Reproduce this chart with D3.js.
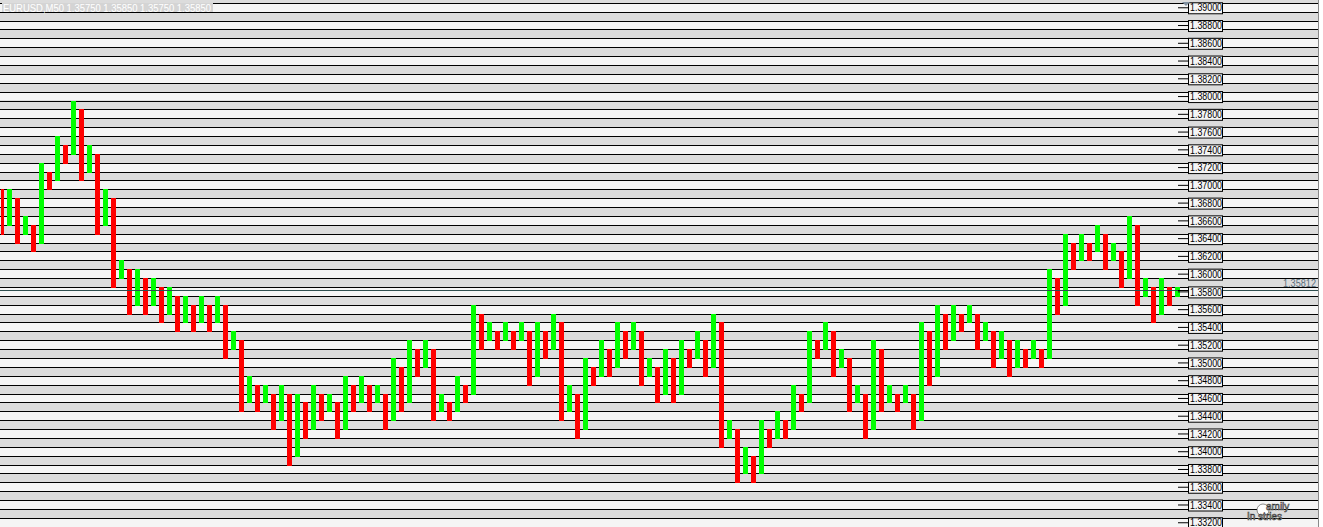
<!DOCTYPE html>
<html>
<head>
<meta charset="utf-8">
<script src="https://cdn.jsdelivr.net/npm/d3@7"></script>
<style>
  html, body { margin: 0; padding: 0; background: #ffffff; }
  svg { display: block; }
</style>
</head>
<body>
<div id="chart"></div>
<script>
// EURUSD,M50 бары (open/close), цвет по направлению
const opens = [
  1.3695, 1.3655, 1.3685, 1.3645, 1.3655, 1.3635, 1.3715, 1.3705, 1.3745, 1.3735,
  1.3785, 1.3715, 1.3735, 1.3655, 1.3685, 1.3595, 1.3605, 1.3565, 1.3595, 1.3565,
  1.3585, 1.3555, 1.3575, 1.3545, 1.3565, 1.3545, 1.3565, 1.3545, 1.3565, 1.3515,
  1.3525, 1.3455, 1.3475, 1.3455, 1.3465, 1.3435, 1.3465, 1.3395, 1.3455, 1.3425,
  1.3465, 1.3445, 1.3455, 1.3425, 1.3475, 1.3455, 1.3475, 1.3455, 1.3465, 1.3435,
  1.3495, 1.3455, 1.3515, 1.3495, 1.3515, 1.3445, 1.3455, 1.3445, 1.3475, 1.3465,
  1.3555, 1.3525, 1.3535, 1.3525, 1.3535, 1.3525, 1.3535, 1.3485, 1.3535, 1.3515,
  1.3545, 1.3445, 1.3465, 1.3425, 1.3495, 1.3485, 1.3515, 1.3495, 1.3535, 1.3515,
  1.3535, 1.3485, 1.3495, 1.3465, 1.3505, 1.3465, 1.3515, 1.3505, 1.3525, 1.3495,
  1.3545, 1.3415, 1.3425, 1.3375, 1.3395, 1.3375, 1.3425, 1.3415, 1.3435, 1.3425,
  1.3465, 1.3455, 1.3525, 1.3515, 1.3535, 1.3495, 1.3505, 1.3455, 1.3465, 1.3425,
  1.3515, 1.3455, 1.3465, 1.3455, 1.3465, 1.3435, 1.3535, 1.3485, 1.3555, 1.3525,
  1.3555, 1.3545, 1.3555, 1.3525, 1.3535, 1.3505, 1.3525, 1.3495, 1.3515, 1.3505,
  1.3515, 1.3505, 1.3595, 1.3565, 1.3635, 1.3615, 1.3635, 1.3625, 1.3645, 1.3615,
  1.3625, 1.3595, 1.3655, 1.3575, 1.3585, 1.3555, 1.3585, 1.3575
];
const closes = [
  1.3645, 1.3695, 1.3635, 1.3665, 1.3625, 1.3725, 1.3695, 1.3755, 1.3725, 1.3795,
  1.3705, 1.3745, 1.3645, 1.3695, 1.3585, 1.3615, 1.3555, 1.3605, 1.3555, 1.3595,
  1.3545, 1.3585, 1.3535, 1.3575, 1.3535, 1.3575, 1.3535, 1.3575, 1.3505, 1.3535,
  1.3445, 1.3485, 1.3445, 1.3475, 1.3425, 1.3475, 1.3385, 1.3465, 1.3415, 1.3475,
  1.3435, 1.3465, 1.3415, 1.3485, 1.3445, 1.3485, 1.3445, 1.3475, 1.3425, 1.3505,
  1.3445, 1.3525, 1.3485, 1.3525, 1.3435, 1.3465, 1.3435, 1.3485, 1.3455, 1.3565,
  1.3515, 1.3545, 1.3515, 1.3545, 1.3515, 1.3545, 1.3475, 1.3545, 1.3505, 1.3555,
  1.3435, 1.3475, 1.3415, 1.3505, 1.3475, 1.3525, 1.3485, 1.3545, 1.3505, 1.3545,
  1.3475, 1.3505, 1.3455, 1.3515, 1.3455, 1.3525, 1.3495, 1.3535, 1.3485, 1.3555,
  1.3405, 1.3435, 1.3365, 1.3405, 1.3365, 1.3435, 1.3405, 1.3445, 1.3415, 1.3475,
  1.3445, 1.3535, 1.3505, 1.3545, 1.3485, 1.3515, 1.3445, 1.3475, 1.3415, 1.3525,
  1.3445, 1.3475, 1.3445, 1.3475, 1.3425, 1.3545, 1.3475, 1.3565, 1.3515, 1.3565,
  1.3535, 1.3565, 1.3515, 1.3545, 1.3495, 1.3535, 1.3485, 1.3525, 1.3495, 1.3525,
  1.3495, 1.3605, 1.3555, 1.3645, 1.3605, 1.3645, 1.3615, 1.3655, 1.3605, 1.3635,
  1.3585, 1.3665, 1.3565, 1.3595, 1.3545, 1.3595, 1.3565, 1.3585
];
const priceTicks = [
  1.390, 1.388, 1.386, 1.384, 1.382, 1.380, 1.378, 1.376, 1.374, 1.372,
  1.370, 1.368, 1.366, 1.364, 1.362, 1.360, 1.358, 1.356, 1.354, 1.352,
  1.350, 1.348, 1.346, 1.344, 1.342, 1.340, 1.338, 1.336, 1.334, 1.332
];
const symbol = 'EURUSD,M50';
const lastBar = [1.35750, 1.35850, 1.35750, 1.35850];
const bid = 1.35812;

const width = 1323;
const height = 527;
const plotRight = 1180;
const gridRight = 1318;

const svg = d3.select('#chart').append('svg')
  .attr('width', width)
  .attr('height', height);

const y = d3.scaleLinear().domain([1.3365, 1.3795]).range([482.8, 101]);
const x = d3.scaleLinear().domain([0, opens.length - 1]).range([1.5, 1177.5]);
const py = v => Math.floor(y(v));

// фон: серые и светлые полосы через 0.001
svg.append('rect')
  .attr('width', gridRight).attr('height', height)
  .attr('fill', '#dcdcdc');

const levels = d3.range(0, 62).map(k => +(1.3905 - k * 0.001).toFixed(4));

svg.append('g').selectAll('rect')
  .data(levels.filter((d, k) => k % 2 === 0))
  .enter().append('rect')
  .attr('x', 0)
  .attr('y', d => py(d))
  .attr('width', gridRight)
  .attr('height', d => py(d - 0.001) - py(d))
  .attr('fill', '#f5f5f5');

svg.append('g').selectAll('line')
  .data(levels)
  .enter().append('line')
  .attr('x1', 0).attr('x2', gridRight)
  .attr('y1', d => py(d) + 0.5).attr('y2', d => py(d) + 0.5)
  .attr('stroke', '#000').attr('stroke-width', 1);

svg.append('line')
  .attr('x1', gridRight + 0.5).attr('x2', gridRight + 0.5)
  .attr('y1', 0).attr('y2', height)
  .attr('stroke', '#8a8a8a');

// заголовок
svg.append('rect')
  .attr('x', 2).attr('y', 3).attr('width', 211).attr('height', 9)
  .attr('fill', '#d4d4d4');
svg.append('text')
  .attr('x', 3).attr('y', 11.5)
  .attr('font-family', 'Liberation Sans, Arial, sans-serif')
  .attr('font-size', 10)
  .attr('fill', '#ffffff')
  .attr('textLength', 208)
  .attr('lengthAdjust', 'spacingAndGlyphs')
  .text(symbol + '  ' + lastBar.map(d3.format('.5f')).join(' '));

// бары
svg.append('clipPath').attr('id', 'plot')
  .append('rect').attr('x', 1).attr('y', 0).attr('width', plotRight).attr('height', height);

const bars = opens.map((o, i) => ({ i, o, c: closes[i] }));

svg.append('g')
  .attr('clip-path', 'url(#plot)')
  .selectAll('rect')
  .data(bars)
  .enter().append('rect')
  .attr('x', d => x(d.i) - 2.5)
  .attr('y', d => py(Math.max(d.o, d.c)))
  .attr('width', 5)
  .attr('height', d => py(Math.min(d.o, d.c)) - py(Math.max(d.o, d.c)) + 1)
  .attr('fill', d => d.c > d.o ? '#00ff00' : '#ff0000');

// линия текущей цены
svg.append('line')
  .attr('x1', 0).attr('x2', gridRight)
  .attr('y1', py(bid) + 0.5).attr('y2', py(bid) + 0.5)
  .attr('stroke', '#2f4f4f');
svg.append('line')
  .attr('x1', 1178).attr('x2', 1188)
  .attr('y1', py(bid) + 0.5).attr('y2', py(bid) + 0.5)
  .attr('stroke', '#000');
svg.append('text')
  .attr('x', 1316).attr('y', py(bid) - 3)
  .attr('text-anchor', 'end')
  .attr('font-family', 'Liberation Sans, Arial, sans-serif')
  .attr('font-size', 10)
  .attr('fill', '#5a6f7c')
  .attr('textLength', 33)
  .attr('lengthAdjust', 'spacingAndGlyphs')
  .text(d3.format('.5f')(bid));

// шкала цен
const axis = svg.append('g')
  .attr('transform', 'translate(1178,0)')
  .call(d3.axisRight(y).tickValues(priceTicks).tickSize(10).tickPadding(2)
    .tickFormat(d3.format('.5f')));
axis.select('.domain').remove();
axis.selectAll('.tick line').attr('stroke', '#000').attr('transform', 'translate(0,-0.5)');
axis.selectAll('.tick').insert('rect', 'text')
  .attr('x', 10.5).attr('y', -5.5)
  .attr('width', 34).attr('height', 11)
  .attr('fill', '#f5f5f5')
  .attr('stroke', '#000');
axis.selectAll('.tick text')
  .attr('fill', '#000')
  .attr('font-family', 'Liberation Sans, Arial, sans-serif')
  .attr('font-size', 10)
  .attr('textLength', 32)
  .attr('lengthAdjust', 'spacingAndGlyphs');

svg.append('path')
  .attr('d', 'M1182,2 L1190,2 L1186,6 Z')
  .attr('fill', '#8090a0');

// водяной знак
const wm = svg.append('g')
  .attr('font-family', 'Liberation Sans, Arial, sans-serif')
  .attr('font-size', 10)
  .attr('fill', '#ffffff')
  .attr('stroke', '#333')
  .attr('stroke-width', 0.6);
wm.append('circle').attr('cx', 1263).attr('cy', 510).attr('r', 6)
  .attr('fill', '#ffffff').attr('stroke', '#444');
wm.append('text').attr('x', 1266).attr('y', 510).text('amily');
wm.append('text').attr('x', 1247).attr('y', 520).text('In  stries');
</script>
</body>
</html>
